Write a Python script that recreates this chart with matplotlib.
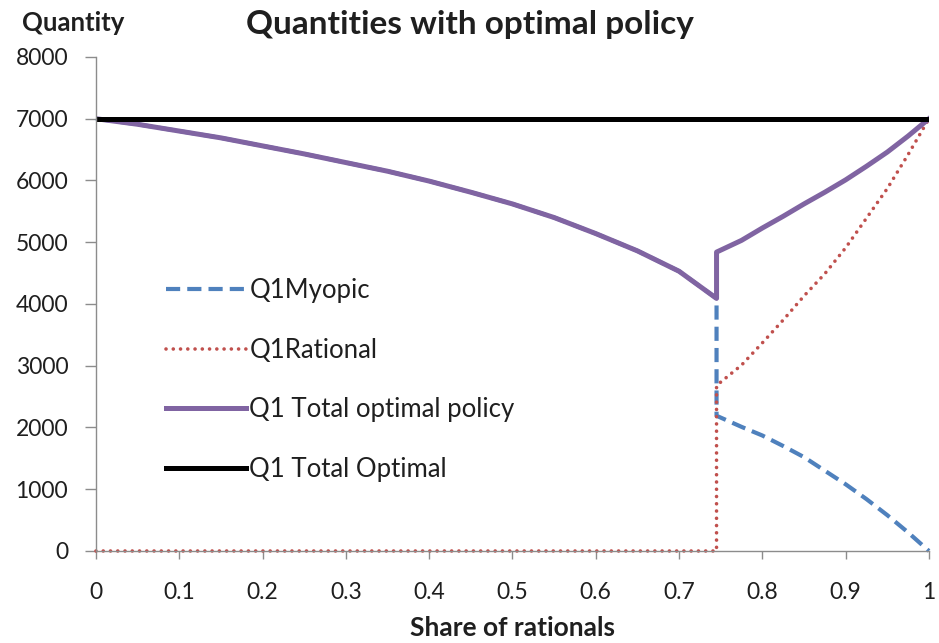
import matplotlib
matplotlib.use("Agg")
import matplotlib.pyplot as plt

# share of rationals: before and after the switch point
x_left = [0.0, 0.05, 0.1, 0.15, 0.2, 0.25, 0.3, 0.35, 0.4, 0.45, 0.5,
          0.55, 0.6, 0.65, 0.7, 0.745]
x_right = [0.745, 0.775, 0.8, 0.825, 0.85, 0.875, 0.9, 0.925, 0.95, 0.975, 1.0]

# total quantity before the switch (all myopic)
total_left = [7000, 6910, 6800, 6690, 6560, 6430, 6290, 6150, 5990, 5810,
              5620, 5400, 5140, 4860, 4530, 4090]

myopic_right = [2190, 2010, 1870, 1700, 1520, 1300, 1080, 840, 580, 300, 0]
rational_right = [2680, 3010, 3370, 3740, 4130, 4490, 4910, 5390, 5870, 6420, 7000]
total_right = [4840, 5030, 5230, 5420, 5620, 5810, 6010, 6230, 6460, 6720, 7000]

optimal_x = [0.0, 1.0]
optimal_q = [7000, 7000]

labels = ["Q1Myopic", "Q1Rational", "Q1 Total optimal policy", "Q1 Total Optimal"]
colors = ["#4F81BD", "#C0504D", "#8064A2", "#000000"]
text_color = "#1f1f1f"

plt.rcParams["font.family"] = ["Lato", "DejaVu Sans"]

fig = plt.figure(figsize=(9.39, 6.43), dpi=100)
ax = fig.add_axes([0.1022, 0.1431, 0.8871, 0.7683])

myopic_x = x_left + x_right
myopic_q = total_left + myopic_right
rational_x = x_left + x_right
rational_q = [0] * len(x_left) + rational_right
total_x = x_left + x_right
total_q = total_left + total_right

ax.plot(myopic_x, myopic_q, color=colors[0], lw=3.0, ls=(0, (3.4, 1.7)),
        label=labels[0], clip_on=False)
ax.plot(rational_x, rational_q, color=colors[1], lw=2.6, ls=(0, (0.01, 2.0)),
        dash_capstyle="round", label=labels[1], clip_on=False)
ax.plot(total_x, total_q, color=colors[2], lw=3.6, label=labels[2])
ax.plot(optimal_x, optimal_q, color=colors[3], lw=3.6, label=labels[3])

ax.set_xlim(0, 1)
ax.set_ylim(0, 8000)
ax.set_xticks([i / 10 for i in range(11)])
ax.set_xticklabels(["0"] + ["0.%d" % i for i in range(1, 10)] + ["1"])
ax.set_yticks(range(0, 8001, 1000))

for side in ("top", "right"):
    ax.spines[side].set_visible(False)
for side in ("left", "bottom"):
    ax.spines[side].set_color("#8c8c8c")
    ax.spines[side].set_linewidth(1.0)
ax.tick_params(axis="both", direction="out", width=1.0, color="#8c8c8c",
               labelsize=16.5, labelcolor=text_color)
ax.tick_params(axis="x", length=6, pad=16)
ax.tick_params(axis="y", length=8, pad=12)

ax.set_xlabel("Share of rationals", fontsize=19, fontweight="bold",
              color=text_color, labelpad=10)
fig.text(0.023, 0.965, "Quantity", fontsize=18.5, fontweight="bold",
         color=text_color, va="center")
fig.text(0.5, 0.962, "Quantities with optimal policy", fontsize=24,
         fontweight="bold", color=text_color, ha="center", va="center")

ax.legend(loc="center left", bbox_to_anchor=(0.084, 0.346), frameon=False,
          fontsize=18.5, handlelength=3.1, handletextpad=0.15,
          labelspacing=1.35, borderpad=0, borderaxespad=0,
          labelcolor=text_color)

fig.savefig("out.png", dpi=100)
